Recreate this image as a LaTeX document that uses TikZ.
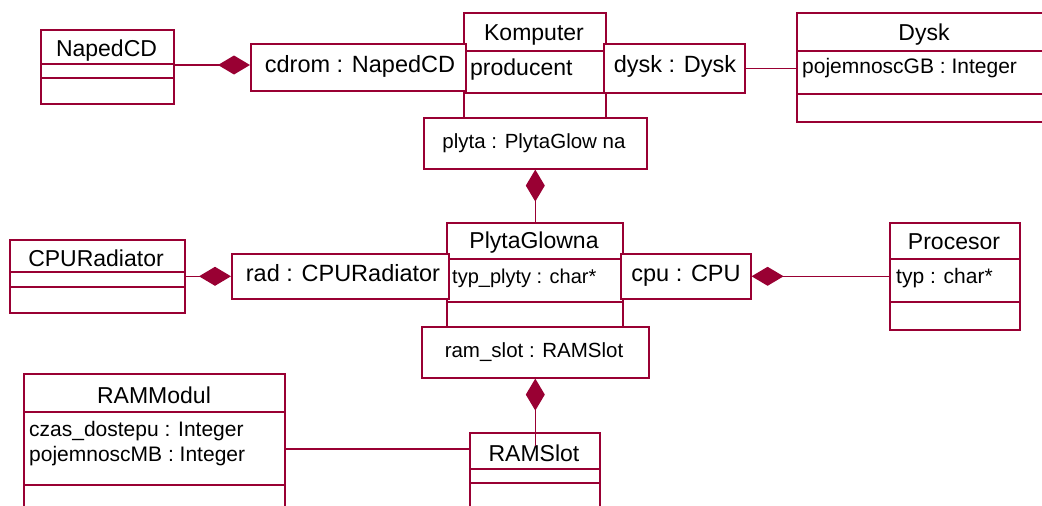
\documentclass[tikz,border=0pt]{standalone}
\usepackage{fontspec}
\setmainfont{Liberation Sans}
\usetikzlibrary{arrows.meta}
\definecolor{rose}{RGB}{153,0,51}
\begin{document}
\begin{tikzpicture}[x=1pt,y=-1pt,
  box/.style={draw=rose, line width=1.6pt, fill=white, anchor=north west, inner sep=0pt},
  sep/.style={draw=rose, line width=1.6pt},
  link/.style={draw=rose, line width=1.6pt},
  comp/.style={link, -{Diamond[length=32pt, width=19pt, fill=rose]}},
  cname/.style={inner sep=0pt, anchor=base, font=\fontsize{23}{27}\selectfont},
  attr/.style={inner sep=0pt, anchor=base west, font=\fontsize{21}{25}\selectfont},
  part/.style={inner sep=0pt, anchor=base, font=\fontsize{23.5}{28}\selectfont},
  inst/.style={inner sep=0pt, anchor=base, font=\fontsize{20.5}{25}\selectfont},
]
\useasboundingbox (0,0) rectangle (1042,506);

% ---- Komputer with its parts ----
\node[box, minimum width=142pt, minimum height=130pt] (komputer) at (463,12) {};
\draw[sep] (komputer.west |- 0,51) -- (komputer.east |- 0,51);
\draw[sep] (komputer.west |- 0,93) -- (komputer.east |- 0,93);
\node[cname] (komputer-t) at (534,40) {Komputer};
\node[attr, font=\fontsize{23}{27}\selectfont] (komputer-a) at (470,75) {producent};

\node[box, minimum width=215pt, minimum height=47pt] (cdrom) at (250,43) {};
\node[part] (cdrom-t) at (360,72.5) {cdrom : NapedCD};
\node[box, minimum width=141pt, minimum height=49pt] (dysk) at (603,43) {};
\node[part] (dysk-t) at (675,72) {dysk : Dysk};
\node[box, minimum width=223pt, minimum height=51pt] (plyta) at (423,117) {};
\node[inst] (plyta-t) at (534,148.5) {plyta : PlytaGlow na};

% ---- NapedCD ----
\node[box, minimum width=133pt, minimum height=74pt] (napedcd) at (40,29) {};
\draw[sep] (napedcd.west |- 0,64) -- (napedcd.east |- 0,64);
\draw[sep] (napedcd.west |- 0,78) -- (napedcd.east |- 0,78);
\node[cname] (napedcd-t) at (106.5,56.5) {NapedCD};

% ---- Dysk ----
\node[box, minimum width=256pt, minimum height=109pt] (dyskcls) at (796,12) {};
\draw[sep] (dyskcls.west |- 0,51) -- (dyskcls.east |- 0,51);
\draw[sep] (dyskcls.west |- 0,94) -- (dyskcls.east |- 0,94);
\node[cname] (dyskcls-t) at (924,40.5) {Dysk};
\node[attr] (dyskcls-a) at (802,73.5) {pojemnoscGB : Integer};

% ---- PlytaGlowna with its parts ----
\node[box, minimum width=176pt, minimum height=130pt] (plytaglowna) at (446,222) {};
\draw[sep] (plytaglowna.west |- 0,259) -- (plytaglowna.east |- 0,259);
\draw[sep] (plytaglowna.west |- 0,302) -- (plytaglowna.east |- 0,302);
\node[cname] (plytaglowna-t) at (534,248.5) {PlytaGlowna};
\node[attr, font=\fontsize{20}{24}\selectfont] (plytaglowna-a) at (452,283.5) {typ\_plyty : char*};

\node[box, minimum width=217pt, minimum height=45pt] (rad) at (231,253) {};
\node[part] (rad-t) at (343,281.5) {rad : CPURadiator};
\node[box, minimum width=130pt, minimum height=45pt] (cpu) at (620,253) {};
\node[part] (cpu-t) at (686,281.5) {cpu : CPU};
\node[box, minimum width=227pt, minimum height=51pt] (ramslotpart) at (421,326) {};
\node[inst] (ramslotpart-t) at (534,357.5) {ram\_slot : RAMSlot};

% ---- CPURadiator ----
\node[box, minimum width=175pt, minimum height=73pt] (cpurad) at (9,239) {};
\draw[sep] (cpurad.west |- 0,272) -- (cpurad.east |- 0,272);
\draw[sep] (cpurad.west |- 0,287) -- (cpurad.east |- 0,287);
\node[cname] (cpurad-t) at (96,266.5) {CPURadiator};

% ---- Procesor ----
\node[box, minimum width=130pt, minimum height=107pt] (procesor) at (889,222) {};
\draw[sep] (procesor.west |- 0,259) -- (procesor.east |- 0,259);
\draw[sep] (procesor.west |- 0,302) -- (procesor.east |- 0,302);
\node[cname] (procesor-t) at (954,249) {Procesor};
\node[attr] (procesor-a) at (896,283) {typ : char*};

% ---- RAMModul ----
\node[box, minimum width=261pt, minimum height=140pt] (rammodul) at (23,373) {};
\draw[sep] (rammodul.west |- 0,412) -- (rammodul.east |- 0,412);
\draw[sep] (rammodul.west |- 0,485) -- (rammodul.east |- 0,485);
\node[cname] (rammodul-t) at (154,403) {RAMModul};
\node[attr] (rammodul-a1) at (29,436) {czas\_dostepu : Integer};
\node[attr] (rammodul-a2) at (29,461.5) {pojemnoscMB : Integer};

% ---- RAMSlot ----
\node[box, minimum width=130pt, minimum height=80pt] (ramslot) at (469,432) {};
\draw[sep] (ramslot.west |- 0,469) -- (ramslot.east |- 0,469);
\draw[sep] (ramslot.west |- 0,483) -- (ramslot.east |- 0,483);
\node[cname] (ramslot-t) at (534,461.5) {RAMSlot};

% ---- connectors ----
\coordinate (slotend) at (534,446);
\coordinate (memlink) at (0,449);
\coordinate (cdlink) at (0,65);
\draw[comp] (napedcd.east |- cdlink) -- (cdrom.west |- cdlink);
\draw[link] (dysk.east) -- (dyskcls.west |- dysk.east);
\draw[comp] (plyta.south |- plytaglowna.north) -- (plyta.south);
\draw[comp] (cpurad.east |- rad.west) -- (rad.west);
\draw[comp] (procesor.west |- cpu.east) -- (cpu.east);
\draw[comp] (ramslotpart.south |- slotend) -- (ramslotpart.south);
\draw[link] (rammodul.east |- memlink) -- (ramslot.west |- memlink);
\end{tikzpicture}
\end{document}
